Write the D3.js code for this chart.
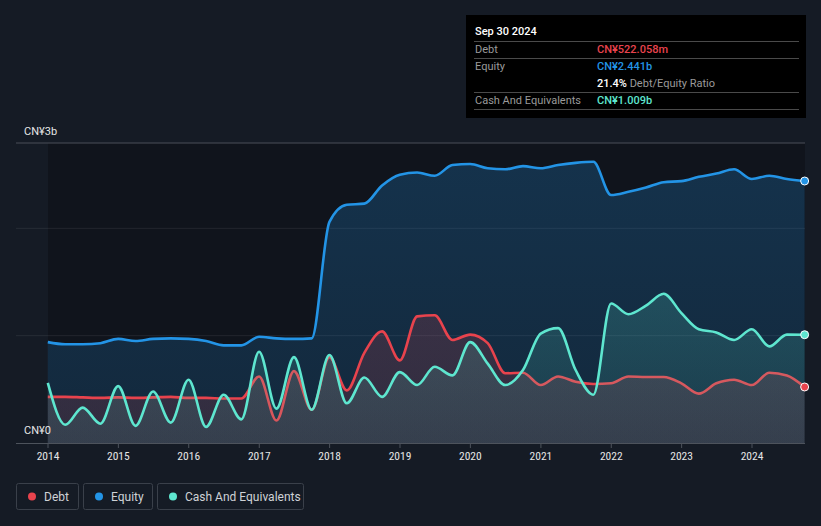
<!DOCTYPE html>
<html>
<head>
<meta charset="utf-8">
<script src="https://cdn.jsdelivr.net/npm/d3@7"></script>
<style>
html,body{margin:0;padding:0;background:#151b25;}
svg{display:block;font-family:Roboto,"Noto Sans",sans-serif;}
</style>
</head>
<body>
<svg id="chart" width="821" height="526"></svg>
<script>
// ---- data (quarter ends, CN¥ billions) ----
const quarters = ["2013-12-31","2014-03-31","2014-06-30","2014-09-30","2014-12-31","2015-03-31","2015-06-30","2015-09-30","2015-12-31","2016-03-31","2016-06-30","2016-09-30","2016-12-31","2017-03-31","2017-06-30","2017-09-30","2017-12-31","2018-03-31","2018-06-30","2018-09-30","2018-12-31","2019-03-31","2019-06-30","2019-09-30","2019-12-31","2020-03-31","2020-06-30","2020-09-30","2020-12-31","2021-03-31","2021-06-30","2021-09-30","2021-12-31","2022-03-31","2022-06-30","2022-09-30","2022-12-31","2023-03-31","2023-06-30","2023-09-30","2023-12-31","2024-03-31","2024-06-30","2024-09-30"];
const equity = [0.94,0.92,0.92,0.93,0.97,0.95,0.97,0.975,0.97,0.95,0.91,0.91,0.99,0.975,0.97,0.975,2.06,2.22,2.23,2.40,2.50,2.52,2.49,2.59,2.60,2.56,2.55,2.58,2.56,2.59,2.61,2.62,2.31,2.34,2.38,2.43,2.44,2.48,2.51,2.55,2.46,2.49,2.46,2.441];
const debt = [0.43,0.43,0.425,0.42,0.425,0.42,0.425,0.43,0.42,0.42,0.415,0.415,0.62,0.21,0.67,0.31,0.80,0.49,0.84,1.04,0.77,1.18,1.19,0.96,1.01,0.93,0.65,0.655,0.54,0.62,0.57,0.55,0.556,0.62,0.615,0.615,0.556,0.46,0.556,0.59,0.54,0.655,0.63,0.522];
const cash = [0.56,0.17,0.33,0.18,0.53,0.16,0.48,0.19,0.59,0.15,0.45,0.22,0.85,0.32,0.80,0.31,0.82,0.37,0.61,0.43,0.66,0.54,0.71,0.63,0.94,0.74,0.54,0.68,1.02,1.07,0.68,0.45,1.30,1.20,1.28,1.39,1.21,1.06,1.03,0.96,1.06,0.90,1.01,1.009];
const yearTicks = [2014,2015,2016,2017,2018,2019,2020,2021,2022,2023,2024];
const yLabels = ["CN¥0","CN¥3b"];
const tooltipTitle = "Sep 30 2024";
const tooltipRows = [
  {label:"Debt", value:"CN¥522.058m", color:"#e8434d"},
  {label:"Equity", value:"CN¥2.441b", color:"#2394e6"},
  {label:"", value:"21.4%", extra:" Debt/Equity Ratio", color:"#ffffff"},
  {label:"Cash And Equivalents", value:"CN¥1.009b", color:"#5ee6cf"}
];
const legendItems = [
  {name:"Debt", color:"#e8434d"},
  {name:"Equity", color:"#2394e6"},
  {name:"Cash And Equivalents", color:"#5ee6cf"}
];

const svg = d3.select("#chart");
const parse = d3.timeParse("%Y-%m-%d");
const dates = quarters.map(parse);

const plotLeft = 48, plotRight = 805, plotTop = 143, plotBottom = 443;
const x = d3.scaleTime()
  .domain([new Date(2014,0,1), new Date(2024,0,1)])
  .range([48, 752]);
const y = d3.scaleLinear().domain([0,3]).range([plotBottom, plotBottom - 3*107.33]);

const defs = svg.append("defs");
function grad(id, color, top, bottom){
  const g = defs.append("linearGradient").attr("id",id).attr("x1",0).attr("x2",0).attr("y1",0).attr("y2",1)
    .attr("gradientUnits","userSpaceOnUse").attr("y1",plotTop).attr("y2",plotBottom);
  g.append("stop").attr("offset","0%").attr("stop-color",color).attr("stop-opacity",top);
  g.append("stop").attr("offset","100%").attr("stop-color",color).attr("stop-opacity",bottom);
}
grad("gEq","#2394e6",0.24,0.16);
grad("gDebt","#e8434d",0.22,0.14);
grad("gCash","#5ee6cf",0.26,0.10);

// plot background
svg.append("rect").attr("x",plotLeft).attr("y",plotTop).attr("width",plotRight-plotLeft).attr("height",plotBottom-plotTop).attr("fill","#10141c");

// grid lines
[1,2].forEach(v=>{
  svg.append("line").attr("x1",16).attr("x2",plotRight).attr("y1",y(v)).attr("y2",y(v))
    .attr("stroke","#ffffff").attr("stroke-opacity",0.08).attr("stroke-width",1);
});
svg.append("line").attr("x1",16).attr("x2",plotRight).attr("y1",plotTop).attr("y2",plotTop)
  .attr("stroke","#4a4f58").attr("stroke-width",1);

const curve = d3.curveMonotoneX;
function series(vals, fillId, color){
  const pts = vals.map((v,i)=>[dates[i], v]);
  const area = d3.area().x(d=>x(d[0])).y0(plotBottom).y1(d=>y(d[1])).curve(curve);
  const line = d3.line().x(d=>x(d[0])).y(d=>y(d[1])).curve(curve);
  svg.append("path").attr("d",area(pts)).attr("fill",`url(#${fillId})`);
  svg.append("path").attr("d",line(pts)).attr("fill","none").attr("stroke",color).attr("stroke-width",2.6).attr("stroke-linejoin","round");
}
series(equity,"gEq","#2394e6");
series(debt,"gDebt","#e8434d");
series(cash,"gCash","#5ee6cf");

// end dots
const last = dates.length-1;
[[equity,"#2394e6"],[cash,"#5ee6cf"],[debt,"#e8434d"]].forEach(([vals,c])=>{
  svg.append("circle").attr("cx",x(dates[last])).attr("cy",y(vals[last])).attr("r",4)
    .attr("fill",c).attr("stroke","#ffffff").attr("stroke-width",1);
});

// x axis
svg.append("line").attr("x1",16).attr("x2",plotRight).attr("y1",plotBottom+0.5).attr("y2",plotBottom+0.5)
  .attr("stroke","#4d535c").attr("stroke-width",1.2);
const xg = svg.append("g");
yearTicks.forEach(yr=>{
  const px = x(new Date(yr,0,1));
  xg.append("line").attr("x1",px).attr("x2",px).attr("y1",plotBottom).attr("y2",plotBottom+5).attr("stroke","#4d535c");
  xg.append("text").attr("x",px).attr("y",460).attr("text-anchor","middle")
    .attr("fill","#e6e6e6").attr("font-size",11.5).attr("font-family","'Liberation Sans Narrow','Roboto Condensed',Roboto,sans-serif")
    .text(yr);
});

// y labels
svg.append("text").attr("x",24).attr("y",434).attr("fill","#e6e6e6").attr("font-size",11).attr("font-family","'Liberation Sans Narrow',Roboto,sans-serif").text(yLabels[0]);
svg.append("text").attr("x",24).attr("y",135).attr("fill","#e6e6e6").attr("font-size",11).text(yLabels[1]);

// tooltip
const tt = svg.append("g");
tt.append("rect").attr("x",466).attr("y",15).attr("width",340).attr("height",103).attr("fill","#000000");
tt.append("text").attr("x",475).attr("y",35).attr("fill","#ffffff").attr("font-size",11).attr("font-weight",500).text(tooltipTitle);
const lineYs = [41.5, 58.5, 92.5, 109.5];
lineYs.forEach(ly=>{
  tt.append("line").attr("x1",474).attr("x2",799).attr("y1",ly).attr("y2",ly).attr("stroke","#4a4a4a").attr("stroke-width",1);
});
const rowYs = [53, 70, 87, 104];
tooltipRows.forEach((r,i)=>{
  if(r.label) tt.append("text").attr("x",475).attr("y",rowYs[i]).attr("fill","#9a9a9a").attr("font-size",11).text(r.label);
  const t = tt.append("text").attr("x",597).attr("y",rowYs[i]).attr("font-size",11);
  t.append("tspan").attr("fill",r.color).attr("font-weight",500).text(r.value);
  if(r.extra) t.append("tspan").attr("fill","#9a9a9a").text(r.extra);
});

// legend
const lg = svg.append("g");
const boxes = [{x:16,w:62},{x:83,w:69},{x:157,w:146}];
legendItems.forEach((it,i)=>{
  const b = boxes[i];
  lg.append("rect").attr("x",b.x+0.5).attr("y",483.5).attr("width",b.w).attr("height",26).attr("rx",2)
    .attr("fill","none").attr("stroke","#3a404a");
  lg.append("circle").attr("cx",b.x+16).attr("cy",496.5).attr("r",4).attr("fill",it.color);
  lg.append("text").attr("x",b.x+28).attr("y",500.5).attr("fill","#cfd2d6").attr("font-size",12).text(it.name);
});
</script>
</body>
</html>
